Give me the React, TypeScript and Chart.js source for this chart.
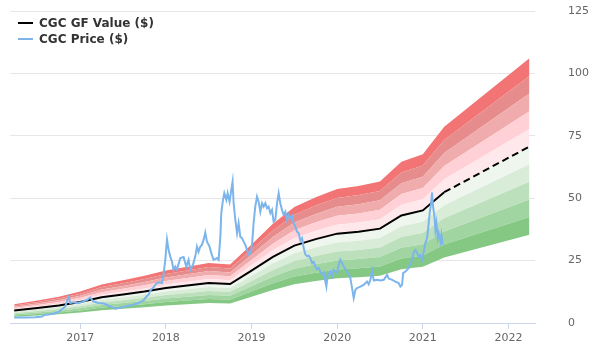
import React, { useEffect, useRef } from "react";
import { Chart, registerables } from "chart.js";

Chart.register(...registerables);

// Axis ranges / ticks
const xRange = [2016.18, 2022.31];
const yRange = [0, 125];
const yStep = 25;
const xStep = 1;

// GF Value knots (year, $)
const gfYears = [2016.229, 2016.5, 2016.75, 2017.0, 2017.25, 2017.5, 2017.75, 2018.0, 2018.25, 2018.5, 2018.75, 2019.0, 2019.25, 2019.5, 2019.75, 2020.0, 2020.25, 2020.5, 2020.75, 2021.0, 2021.25, 2022.245];
const gfValues = [5.0, 6.0, 7.0, 8.4, 10.3, 11.4, 12.6, 14.0, 15.0, 16.0, 15.6, 21.0, 26.5, 31.0, 33.6, 35.8, 36.6, 37.8, 43.1, 45.1, 52.4, 70.7];
const forecastStart = 2021.25;

// Valuation bands (ratio of GF Value), bottom to top
const bandRatios = [0.5, 0.6, 0.7, 0.8, 0.9, 1.0, 1.1, 1.2, 1.3, 1.4, 1.5];
const bandColors = ["#84c884", "#a0d4a0", "#bce0bc", "#d8ecd8", "#eef6ee", "#ffe8eb", "#ffd0d5", "#f0acac", "#e68c8c", "#f27474"];

// Price (year, $)
const priceYears = [
  2016.229, 2016.357, 2016.474, 2016.556, 2016.579, 2016.65, 2016.696, 2016.743, 2016.79, 2016.825,
  2016.848, 2016.866, 2016.883, 2016.918, 2016.965, 2017.023, 2017.082, 2017.117, 2017.152, 2017.21,
  2017.269, 2017.327, 2017.374, 2017.409, 2017.444, 2017.502, 2017.561, 2017.619, 2017.678, 2017.736,
  2017.771, 2017.8, 2017.829, 2017.859, 2017.888, 2017.923, 2017.954, 2017.973, 2017.993, 2018.013,
  2018.032, 2018.051, 2018.071, 2018.09, 2018.11, 2018.13, 2018.151, 2018.168, 2018.207, 2018.238,
  2018.265, 2018.285, 2018.316, 2018.343, 2018.363, 2018.381, 2018.402, 2018.421, 2018.44, 2018.46,
  2018.48, 2018.51, 2018.53, 2018.557, 2018.597, 2018.616, 2018.636, 2018.647, 2018.667, 2018.682,
  2018.706, 2018.721, 2018.744, 2018.764, 2018.779, 2018.791, 2018.811, 2018.831, 2018.849, 2018.869,
  2018.889, 2018.908, 2018.928, 2018.947, 2018.966, 2018.986, 2019.006, 2019.024, 2019.044, 2019.064,
  2019.083, 2019.103, 2019.123, 2019.141, 2019.161, 2019.181, 2019.2, 2019.22, 2019.239, 2019.258,
  2019.278, 2019.298, 2019.317, 2019.336, 2019.356, 2019.375, 2019.395, 2019.415, 2019.433, 2019.453,
  2019.473, 2019.492, 2019.512, 2019.531, 2019.55, 2019.57, 2019.59, 2019.609, 2019.628, 2019.648,
  2019.667, 2019.687, 2019.707, 2019.725, 2019.745, 2019.765, 2019.784, 2019.804, 2019.824, 2019.842,
  2019.862, 2019.874, 2019.889, 2019.921, 2019.94, 2019.959, 2019.999, 2020.018, 2020.037, 2020.057,
  2020.076, 2020.116, 2020.154, 2020.174, 2020.193, 2020.213, 2020.232, 2020.271, 2020.31, 2020.349,
  2020.368, 2020.388, 2020.408, 2020.427, 2020.466, 2020.505, 2020.544, 2020.583, 2020.602, 2020.642,
  2020.68, 2020.718, 2020.738, 2020.758, 2020.77, 2020.797, 2020.815, 2020.835, 2020.855, 2020.875,
  2020.894, 2020.914, 2020.933, 2020.952, 2020.972, 2020.992, 2021.011, 2021.03, 2021.05, 2021.069,
  2021.08, 2021.097, 2021.108, 2021.12, 2021.136, 2021.147, 2021.159, 2021.174, 2021.186, 2021.206,
  2021.217, 2021.232,
];
const priceValues = [
  2.2, 2.2, 2.3, 2.6, 3.2, 3.5, 3.8, 4.3, 5.6, 6.6,
  9.0, 10.5, 8.0, 8.3, 7.9, 8.4, 9.3, 10.2, 8.7, 8.0,
  7.9, 7.0, 6.3, 5.7, 6.0, 6.4, 6.9, 7.3, 8.0, 9.0,
  10.5, 11.5, 13.6, 14.3, 15.8, 16.3, 16.0, 19.5, 25.3, 33.5,
  29.3, 26.6, 24.6, 21.3, 22.6, 21.3, 24.0, 26.0, 26.4, 22.6,
  25.3, 21.3, 23.3, 26.6, 30.6, 28.5, 30.6, 31.3, 33.3, 36.2,
  32.6, 30.6, 28.0, 25.3, 26.0, 25.3, 34.6, 44.0, 49.3, 52.0,
  49.3, 52.0, 48.6, 53.3, 56.6, 48.0, 41.3, 36.0, 40.0, 34.6,
  34.0, 32.6, 31.3, 29.3, 27.3, 28.0, 31.3, 40.0, 46.6, 50.6,
  48.6, 44.6, 48.0, 46.6, 48.0, 46.0, 46.6, 44.0, 45.3, 40.6,
  41.3, 48.0, 52.0, 48.0, 45.3, 43.3, 44.6, 41.3, 43.3, 42.0,
  43.0, 40.0, 38.6, 36.6, 36.0, 33.0, 34.0, 30.0, 27.5, 26.8,
  27.0, 26.0, 24.0, 24.5, 22.6, 21.5, 22.0, 20.6, 19.5, 20.3,
  16.6, 14.6, 19.3, 20.6, 18.8, 21.3, 20.0, 23.3, 25.3, 24.0,
  22.6, 20.6, 18.0, 14.0, 10.0, 13.3, 14.0, 14.6, 15.3, 16.6,
  15.5, 17.3, 21.0, 17.0, 17.3, 17.0, 17.3, 19.3, 17.8, 17.3,
  16.6, 16.0, 14.6, 15.3, 20.0, 20.6, 21.3, 22.0, 24.0, 25.3,
  28.6, 29.3, 28.0, 26.6, 27.3, 25.3, 28.6, 32.0, 34.0, 40.0,
  44.0, 48.0, 52.3, 46.6, 42.6, 37.3, 40.0, 34.0, 36.0, 32.6,
  35.3, 31.3,
];

const seriesNames = ["CGC GF Value ($)", "CGC Price ($)"];
const seriesColors = ["#000000", "#7cb5ec"];

const FONT = '"DejaVu Sans", sans-serif';

export default function App() {
  const ref = useRef<HTMLCanvasElement | null>(null);

  useEffect(() => {
    if (!ref.current) return;
    const bandSets: any[] = bandRatios.map((r, i) => ({
      label: "band" + r,
      data: gfYears.map((yr, k) => ({ x: yr, y: gfValues[k] * r })),
      borderWidth: 0,
      pointRadius: 0,
      backgroundColor: i === 0 ? "transparent" : bandColors[i - 1],
      fill: i === 0 ? false : "-1",
      tension: 0,
      order: 10,
    }));
    const gfSet = {
      label: seriesNames[0],
      data: gfYears.map((yr, k) => ({ x: yr, y: gfValues[k] })),
      borderColor: seriesColors[0],
      borderWidth: 2,
      pointRadius: 0,
      fill: false,
      tension: 0,
      order: 1,
      segment: {
        borderDash: (ctx: any) => (ctx.p0.parsed.x >= forecastStart - 0.001 ? [7, 4] : undefined),
      },
    };
    const priceSet = {
      label: seriesNames[1],
      data: priceYears.map((yr, k) => ({ x: yr, y: priceValues[k] })),
      borderColor: seriesColors[1],
      borderWidth: 2,
      pointRadius: 0,
      fill: false,
      tension: 0,
      order: 0,
    };

    const chart = new Chart(ref.current, {
      type: "line",
      data: { datasets: [...bandSets, gfSet, priceSet] },
      options: {
        animation: false,
        responsive: false,
        devicePixelRatio: 1,
        layout: { padding: { left: 10, top: 11, right: 0, bottom: 0 } },
        plugins: { legend: { display: false }, tooltip: { enabled: false } },
        scales: {
          x: {
            type: "linear",
            min: xRange[0],
            max: xRange[1],
            ticks: {
              stepSize: xStep,
              includeBounds: false,
              autoSkip: false,
              maxRotation: 0,
              color: "#666666",
              font: { family: FONT, size: 11 },
              padding: 3,
              callback: (v: any) => String(v),
            },
            grid: { drawOnChartArea: false, drawTicks: true, tickLength: 6, color: "#ccd6eb" },
            border: { color: "#ccd6eb", width: 1 },
            afterFit: (s: any) => {
              s.height = 37;
            },
          },
          y: {
            position: "right",
            min: yRange[0],
            max: yRange[1],
            ticks: {
              stepSize: yStep,
              color: "#666666",
              font: { family: FONT, size: 11 },
              padding: 0,
            },
            grid: { color: "#e6e6e6", drawTicks: true, tickLength: 33, tickColor: "rgba(0,0,0,0)" },
            border: { display: false },
            afterFit: (s: any) => {
              s.width = 65;
            },
          },
        },
      },
    } as any);
    return () => chart.destroy();
  }, []);

  return (
    <div style={{ position: "absolute", left: 0, top: 0, width: 600, height: 360 }}>
      <canvas ref={ref} width={600} height={360} style={{ display: "block" }} />
      <div
        style={{
          position: "absolute",
          left: 18,
          top: 15,
          font: `bold 12px ${FONT}`,
          color: "#333333",
          lineHeight: "16px",
        }}
      >
        {seriesNames.map((n, i) => (
          <div key={n} style={{ display: "flex", alignItems: "center", height: 16 }}>
            <span style={{ display: "inline-block", width: 15, height: 2, background: seriesColors[i], marginRight: 6 }} />
            <span>{n}</span>
          </div>
        ))}
      </div>
    </div>
  );
}
